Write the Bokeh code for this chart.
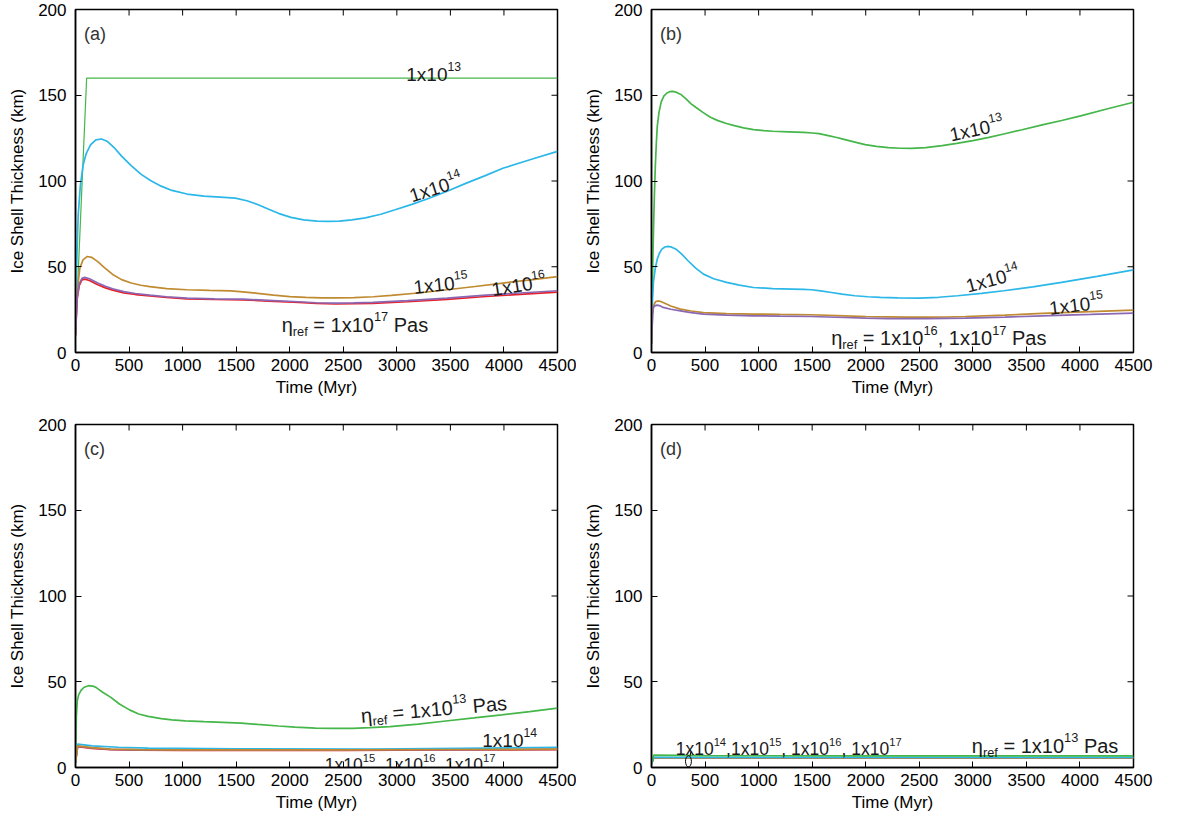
import math
from bokeh.plotting import figure
from bokeh.layouts import gridplot
from bokeh.models import Range1d, FixedTicker
from bokeh.core.properties import value
from bokeh.embed import file_html
from bokeh.resources import INLINE

FONT = "Liberation Sans"

# ---------------- data ----------------
XTICKS = [0, 500, 1000, 1500, 2000, 2500, 3000, 3500, 4000, 4500]
YTICKS = [0, 50, 100, 150, 200]

# panel (a)
a13_t = [0, 104, 4500]
a13_v = [10, 160, 160]
a14_t = [0, 10, 25, 45, 70, 100, 140, 190, 243, 300, 360, 430, 520, 610, 700, 800, 900, 1041, 1200, 1350, 1492,
         1600, 1700, 1804, 1900, 2012, 2130, 2255, 2360, 2463, 2580, 2706, 2850, 2984, 3140, 3296, 3470, 3643,
         3820, 3990, 4250, 4500]
a14_v = [10, 50, 80, 97, 109, 116, 121, 124, 124.5, 123, 119.5, 114.5, 109, 104, 100.3, 97, 94.5, 92.4, 91.2, 90.6, 90,
         88.5, 86.3, 83.5, 81, 78.8, 77.3, 76.6, 76.4, 76.6, 77.3, 78.5, 80.6, 83.2, 86.4, 89.8, 94, 98.6,
         103, 107.4, 112.5, 117.3]
a15_t = [0, 15, 40, 70, 110, 150, 208, 270, 347, 430, 520, 610, 694, 850, 1041, 1250, 1450, 1561, 1700, 1850, 2000,
         2150, 2300, 2450, 2602, 2780, 2949, 3200, 3469, 3730, 3990, 4250, 4500]
a15_v = [10, 35, 49, 54, 56, 55.5, 53, 49.5, 45.5, 42.5, 40.5, 39.2, 38.4, 37.3, 36.6, 36.2, 35.9, 35.4, 34.5, 33.5, 32.6,
         32.1, 31.9, 31.9, 32, 32.5, 33.3, 34.7, 36.6, 38.5, 40.5, 42.4, 44.2]
a16_t = [0, 15, 35, 60, 87, 130, 208, 280, 347, 450, 560, 694, 850, 1041, 1300, 1561, 1800, 2082, 2250, 2428, 2600,
         2775, 3100, 3469, 3800, 4150, 4500]
a16_v = [10, 32, 40, 43.2, 43.8, 43, 40.5, 38.6, 37.2, 35.5, 34.4, 33.5, 32.5, 31.7, 31.3, 31.1, 30.4, 29.6, 29, 28.8, 28.9,
         29.2, 30.3, 31.7, 33.3, 34.7, 36]
a17_v = [10, 31, 39, 42.3, 42.8, 42, 39.5, 37.7, 36.4, 34.8, 33.8, 33, 32.1, 31.3, 30.9, 30.7, 30, 29.2, 28.6, 28.4, 28.5,
         28.6, 29.6, 31, 32.5, 33.9, 35.2]

# panel (b)
b13_t = [0, 10, 18, 27, 36, 45, 54, 70, 90, 115, 144, 170, 198, 230, 270, 320, 370, 413, 480, 550, 620, 700, 773, 860,
         952, 1050, 1132, 1280, 1420, 1500, 1563, 1650, 1720, 1779, 1880, 1995, 2100, 2210, 2320, 2426, 2560, 2713,
         2850, 3001, 3150, 3289, 3460, 3648, 3830, 4007, 4250, 4500]
b13_v = [5, 45, 70, 92, 109, 122, 132, 140, 146, 149.5, 151.3, 152.1, 152.3, 151.8, 150.6, 148, 145, 143, 140, 137.2,
         135.2, 133.5, 132.3, 131, 130, 129.4, 129, 128.7, 128.4, 128, 127.6, 126.5, 125.5, 124.6, 123, 121.2, 120.2,
         119.5, 119.1, 119, 119.5, 120.6, 121.9, 123.5, 125.4, 127.4, 129.9, 132.7, 135.3, 138, 142, 145.9]
b14_t = [0, 10, 18, 35, 54, 75, 97, 125, 155, 190, 234, 285, 341, 410, 485, 580, 701, 820, 952, 1130, 1312, 1420, 1492,
         1580, 1680, 1779, 1900, 2020, 2138, 2300, 2498, 2680, 2857, 3080, 3289, 3560, 3828, 4160, 4500]
b14_v = [5, 32, 41, 49, 54.5, 58, 60.3, 61.5, 61.9, 61.4, 60, 57.2, 53.5, 49.3, 45.7, 43, 40.9, 39.3, 37.9, 37.3, 37,
         36.8, 36.6, 35.9, 35, 34, 33.1, 32.5, 32.1, 31.8, 31.7, 32.2, 33.1, 34.5, 36, 38.3, 40.9, 44.4, 48.2]
b15_t = [0, 10, 18, 35, 54, 80, 108, 180, 270, 370, 485, 700, 952, 1200, 1492, 1800, 2000, 2210, 2400, 2570, 2750,
         2929, 3300, 3648, 4100, 4500]
b15_v = [5, 22, 27, 29.4, 30, 29.9, 29.2, 27.1, 25.3, 24.2, 23.3, 22.7, 22.4, 22.2, 22, 21.4, 21, 20.8, 20.6, 20.6, 20.7,
         21, 21.8, 22.8, 23.8, 24.7]
b16_v = [5, 22, 26.3, 27.3, 27.6, 27.2, 26.3, 25.2, 24.3, 23.2, 22.4, 21.8, 21.4, 21.2, 21, 20.4, 20, 19.8, 19.7, 19.8,
         19.9, 20, 20.6, 21.4, 22.2, 23]

# panel (c)
c13_t = [0, 8, 17, 30, 52, 80, 122, 160, 191, 250, 330, 410, 504, 590, 678, 800, 900, 1025, 1200, 1373, 1546, 1700,
         1894, 2050, 2241, 2400, 2589, 2750, 2936, 3200, 3458, 3720, 3979, 4240, 4500]
c13_v = [3, 30, 39, 42.5, 45, 46.8, 47.7, 47.5, 46.7, 44, 40.9, 37, 33.6, 31.2, 29.8, 28.5, 27.8, 27.2, 26.7, 26.3, 25.9,
         25.1, 24.2, 23.5, 23, 22.8, 22.8, 23.2, 23.8, 25.3, 27.1, 28.9, 30.7, 32.6, 34.6]
c14_t = [0, 20, 156, 400, 678, 1500, 2763, 3600, 4500]
c14_v = [3, 13.6, 12.6, 11.8, 11.3, 10.9, 10.7, 11.1, 11.7]
c15_t = [0, 20, 150, 330, 600, 1000, 2500, 3500, 4500]
c15_v = [3, 12.6, 11.6, 10.7, 10.4, 10.3, 10.3, 10.5, 10.7]
c16_v = [3, 12.4, 11.4, 10.6, 10.3, 10.2, 10.2, 10.4, 10.6]
c17_v = [3, 12.2, 11.2, 10.4, 10.1, 10.0, 10.0, 10.2, 10.4]

# panel (d)
d13_t = [0, 20, 500, 2000, 4500]
d13_v = [2, 7.2, 6.9, 6.8, 6.8]
d14_t = [0, 20, 500, 2000, 4500]
d14_v = [2, 5.9, 5.9, 5.9, 5.9]
d15_v = [2, 5.6, 5.6, 5.6, 5.6]

GREEN = "#45B649"
CYAN = "#2BB7E8"
BROWN = "#C08A30"
PURPLE = "#8A68B4"
RED = "#E8202A"
TXT = "#1a1a1a"

W = {'1': 556, 'x': 500, '0': 556, '3': 556, '4': 556, '5': 556, '6': 556, '7': 556,
     ' ': 278, '=': 584, 'P': 667, 'a': 556, 's': 500, ',': 278, 'r': 333, 'e': 556,
     'f': 278, 'η': 556}


def twidth(s, size):
    return sum(W.get(c, 556) for c in s) / 1000.0 * size


def rich(p, x, y, parts, size=19, angle_deg=0.0):
    th = math.radians(angle_deg)
    w = 0.0
    for txt, kind in parts:
        if kind == "n":
            fs, dy = size, 0.0
        elif kind == "sup":
            fs, dy = size * 0.64, size * 0.42
        else:
            fs, dy = size * 0.64, -size * 0.32
        lead = len(txt) - len(txt.lstrip(" "))
        core = txt.strip(" ")
        ws = w + twidth(" " * lead, fs)
        xo = ws * math.cos(th) - dy * math.sin(th)
        yo = -(ws * math.sin(th) + dy * math.cos(th))
        p.text(x=[x], y=[y], text=[core], x_offset=xo, y_offset=yo, angle=th,
               text_font=value(FONT), text_font_size=f"{fs:.1f}px",
               text_baseline="alphabetic", text_align="left", text_color=TXT)
        w += twidth(txt, fs)


def make_fig(width, height, bl, br, bt, bb):
    p = figure(width=width, height=height, output_backend="svg", toolbar_location=None,
               x_range=Range1d(0, 4500), y_range=Range1d(0, 200),
               min_border_left=bl, min_border_right=br, min_border_top=bt, min_border_bottom=bb,
               background_fill_color="white", border_fill_color="white")
    p.grid.visible = False
    p.outline_line_color = "black"
    p.outline_line_width = 1.5
    p.xaxis.ticker = FixedTicker(ticks=XTICKS)
    p.yaxis.ticker = FixedTicker(ticks=YTICKS)
    for ax in (p.xaxis, p.yaxis):
        ax.major_tick_in = 6
        ax.major_tick_out = 0
        ax.minor_tick_line_color = None
        ax.axis_line_color = "black"
        ax.axis_line_width = 1.5
        ax.major_tick_line_color = "black"
        ax.major_label_text_font = FONT
        ax.major_label_text_font_size = "17px"
        ax.major_label_text_color = "black"
        ax.axis_label_text_font = FONT
        ax.axis_label_text_font_size = "17px"
        ax.axis_label_text_font_style = "normal"
        ax.axis_label_text_color = "black"
    p.xaxis.axis_label = "Time (Myr)"
    p.yaxis.axis_label = "Ice Shell Thickness (km)"
    p.xaxis.major_label_standoff = 6
    p.xaxis.axis_label_standoff = 4
    p.yaxis.major_label_standoff = 9
    p.yaxis.axis_label_standoff = 8
    # inward ticks on top and right
    p.ray(x=XTICKS[1:-1], y=[200] * (len(XTICKS) - 2), length=6, length_units="screen",
          angle=-math.pi / 2, line_color="black", line_width=1)
    p.ray(x=[4500] * (len(YTICKS) - 2), y=YTICKS[1:-1], length=6, length_units="screen",
          angle=math.pi, line_color="black", line_width=1)
    return p


def panel_tag(p, s):
    p.text(x=[80], y=[186], text=[s], text_font=value(FONT), text_font_size="18px",
           text_baseline="middle", text_align="left", text_color="#333333")


# layout: left figs 576 wide, right figs 607 wide; top row 408 tall, bottom 412
pa = make_fig(576, 408, 75, 19, 9, 56)
pb = make_fig(607, 408, 75, 50, 9, 56)
pc = make_fig(576, 412, 75, 19, 16, 53)
pd = make_fig(607, 412, 75, 50, 16, 53)

LW = 1.7
# (a)
pa.line(a13_t, a13_v, line_color=GREEN, line_width=1.2)
pa.line(a14_t, a14_v, line_color=CYAN, line_width=LW)
pa.line(a15_t, a15_v, line_color=BROWN, line_width=LW)
pa.line(a16_t, a17_v, line_color=RED, line_width=LW)
pa.line(a16_t, a16_v, line_color=PURPLE, line_width=LW)
panel_tag(pa, "(a)")
rich(pa, 3088, 162, [("1x10", "n"), ("13", "sup")], 19, 0)
rich(pa, 3122, 91, [("1x10", "n"), ("14", "sup")], 19, 18)
rich(pa, 3156, 37.9, [("1x10", "n"), ("15", "sup")], 19, 6)
rich(pa, 3886, 36.6, [("1x10", "n"), ("16", "sup")], 19, 9)
rich(pa, 1925, 16.1, [("η", "n"), ("ref", "sub"), (" = 1x10", "n"), ("17", "sup"), (" Pas", "n")], 20, 0)

# (b)
pb.line(b13_t, b13_v, line_color=GREEN, line_width=LW)
pb.line(b14_t, b14_v, line_color=CYAN, line_width=LW)
pb.line(b15_t, b15_v, line_color=BROWN, line_width=LW)
pb.line(b15_t, b16_v, line_color=PURPLE, line_width=LW)
panel_tag(pb, "(b)")
rich(pb, 2785, 126.8, [("1x10", "n"), ("13", "sup")], 19, 12)
rich(pb, 2940, 38.5, [("1x10", "n"), ("14", "sup")], 19, 15)
rich(pb, 3713, 25.7, [("1x10", "n"), ("15", "sup")], 19, 7)
rich(pb, 1678, 8.2, [("η", "n"), ("ref", "sub"), (" = 1x10", "n"), ("16", "sup"), (", 1x10", "n"), ("17", "sup"), (" Pas", "n")], 20, 0)

# (c)
pc.line(c13_t, c13_v, line_color=GREEN, line_width=LW)
pc.line(c15_t, c17_v, line_color=RED, line_width=LW)
pc.line(c15_t, c16_v, line_color=PURPLE, line_width=LW)
pc.line(c14_t, c14_v, line_color=CYAN, line_width=LW)
pc.line(c15_t, c15_v, line_color=BROWN, line_width=LW)
panel_tag(pc, "(c)")
rich(pc, 2665, 30.2, [("η", "n"), ("ref", "sub"), (" = 1x10", "n"), ("13", "sup"), (" Pas", "n")], 20, 5)
rich(pc, 3798, 15.6, [("1x10", "n"), ("14", "sup")], 19, 0)
rich(pc, 2328, 1.5, [("1x10", "n"), ("15", "sup"), (", 1x10", "n"), ("16", "sup"), (", 1x10", "n"), ("17", "sup")], 17.5, 0)

# (d)
pd.line(d14_t, d15_v, line_color=RED, line_width=LW)
pd.line(d14_t, d15_v, line_color=PURPLE, line_width=LW)
pd.line(d14_t, d15_v, line_color=BROWN, line_width=LW)
pd.line(d14_t, d14_v, line_color=CYAN, line_width=LW)
pd.line(d13_t, d13_v, line_color=GREEN, line_width=LW)
panel_tag(pd, "(d)")
rich(pd, 226, 10.7, [("1x10", "n"), ("14", "sup"), (",1x10", "n"), ("15", "sup"), (", 1x10", "n"), ("16", "sup"), (", 1x10", "n"), ("17", "sup")], 17.5, 0)
rich(pd, 2991, 12.6, [("η", "n"), ("ref", "sub"), (" = 1x10", "n"), ("13", "sup"), (" Pas", "n")], 20, 0)
pd.ellipse(x=[345], y=[3.6], width=55, height=6.5, fill_color=None, line_color="black", line_width=1)
pd.line([360, 368], [6.8, 9.2], line_color="black", line_width=1)

grid = gridplot([[pa, pb], [pc, pd]], toolbar_location=None)

open("out.html", "w").write(file_html(grid, INLINE))
